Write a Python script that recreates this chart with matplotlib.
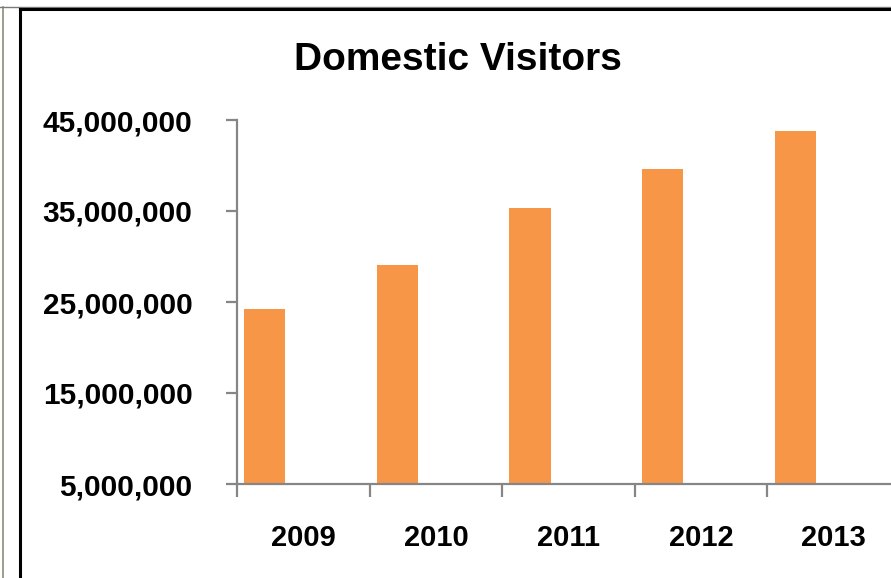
import numpy as np
import matplotlib
matplotlib.use('Agg')
import matplotlib.pyplot as plt
from matplotlib.lines import Line2D
from matplotlib.ticker import FuncFormatter

years = ['2009', '2010', '2011', '2012', '2013']
visitors = [24200000, 29100000, 35300000, 39600000, 43800000]
yticks = [5000000, 15000000, 25000000, 35000000, 45000000]

W, H = 891, 578
fig = plt.figure(figsize=(W / 100, H / 100), dpi=100)
fig.patch.set_facecolor('white')

# outer frame lines (cropped on right and bottom)
fig.add_artist(Line2D([2.5 / W, 2.5 / W], [0, 1 - 7 / H], transform=fig.transFigure, color='#8c8c7a', lw=1.2))
fig.add_artist(Line2D([0, 1], [1 - 7 / H, 1 - 7 / H], transform=fig.transFigure, color='#7a7a7a', lw=1.0))
fig.add_artist(Line2D([20 / W, 20 / W], [0, 1 - 9 / H], transform=fig.transFigure, color='black', lw=2.2))
fig.add_artist(Line2D([20 / W, 1], [1 - 9 / H, 1 - 9 / H], transform=fig.transFigure, color='black', lw=2.2))

ax_l, ax_r, ax_t, ax_b = 237, 891, 120, 484
ax = fig.add_axes([ax_l / W, 1 - ax_b / H, (ax_r - ax_l) / W, (ax_b - ax_t) / H])

x = np.arange(len(years))
ax.bar(x - 0.29, visitors, width=0.31, color='#F79646', zorder=2)

ax.set_yticks(yticks)
ax.yaxis.set_major_formatter(FuncFormatter(lambda v, p: f'{int(v):,}'))

ax.set_xticks(np.arange(len(years) + 1) - 0.5)
ax.set_xticklabels([])
ax.set_xticks(x, minor=True)
ax.set_xticklabels(years, minor=True)

ax.set_ylim(5000000, 45000000)
ax.set_xlim(-0.5, -0.5 + (ax_r - ax_l) / 132.6)

for s in ['top', 'right']:
    ax.spines[s].set_visible(False)
for s in ['left', 'bottom']:
    ax.spines[s].set_color('#868686')
    ax.spines[s].set_linewidth(1.6)

ax.tick_params(axis='y', which='major', direction='out', length=8, width=1.6, color='#868686',
               pad=24, labelsize=21.5)
ax.tick_params(axis='x', which='major', direction='out', length=9, width=1.6, color='#868686')
ax.tick_params(axis='x', which='minor', length=0, pad=29, labelsize=21)
for lab in ax.get_yticklabels() + ax.get_xticklabels(minor=True):
    lab.set_fontweight('bold')
    lab.set_family(['Liberation Sans', 'DejaVu Sans'])

fig.text(458 / W, 1 - 60 / H, 'Domestic Visitors', ha='center', va='center',
         fontsize=28, fontweight='bold', family=['Liberation Sans', 'DejaVu Sans'])

fig.savefig('out.png', dpi=100)
